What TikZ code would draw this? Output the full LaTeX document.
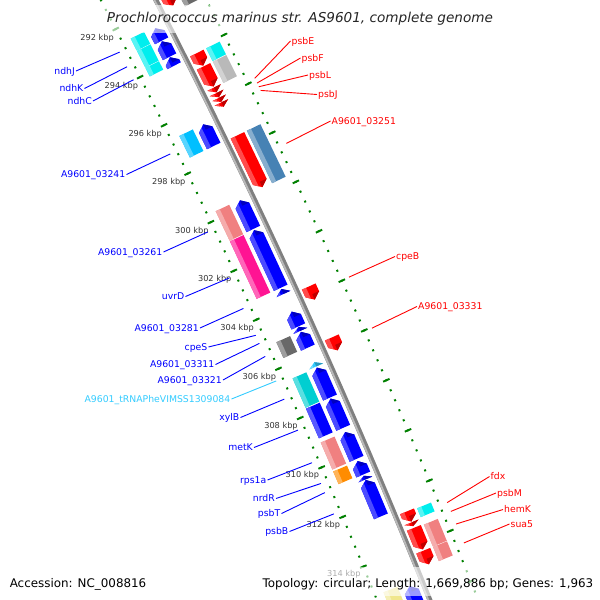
\documentclass[tikz,border=0pt]{standalone}
\usepackage{fontspec}
\setmainfont{DejaVu Sans}
\usetikzlibrary{calc}

\definecolor{cdsblue}{RGB}{0,0,255}
\definecolor{cdsred}{RGB}{255,0,0}
\definecolor{trnablue}{RGB}{51,204,255}
\definecolor{tickgreen}{RGB}{0,128,0}
\definecolor{cogcyan}{RGB}{0,238,238}
\definecolor{cogsky}{RGB}{0,191,255}
\definecolor{cogsalmon}{RGB}{240,128,128}
\definecolor{cogpink}{RGB}{255,20,147}
\definecolor{coggray}{RGB}{105,105,105}
\definecolor{cogturq}{RGB}{0,206,209}
\definecolor{cogorange}{RGB}{255,140,0}
\definecolor{cogkhaki}{RGB}{240,230,140}
\definecolor{cogsilver}{RGB}{185,185,185}
\definecolor{cogsteel}{RGB}{70,130,180}
\definecolor{axisgray}{RGB}{128,128,128}
\definecolor{axislight}{RGB}{185,185,185}
\definecolor{textgray}{RGB}{51,51,51}

\tikzset{
  gmap/.cd, p/.store in=\mapp, r/.store in=\mapr, p=300, r=7200,
}
% position (kbp) and radius on the big circle, centre far to the lower left
\tikzdeclarecoordinatesystem{gmap}{%
  \tikzset{gmap/.cd,#1}%
  \edef\mapx{\fpeval{round(-6250+(\mapr)*cosd(-26.7+0.2156*((\mapp)-293.87)),3)}}%
  \edef\mapy{\fpeval{round(3287+(\mapr)*sind(-26.7+0.2156*((\mapp)-293.87)),3)}}%
  \pgfpointxy{\mapx}{\mapy}}

% COG box: start, end, inner radius, colour
\newcommand{\cogbox}[4]{%
  \edef\cbout{\fpeval{#3+15}}\edef\cbmid{\fpeval{#3+4.5}}%
  \fill[#4] (gmap cs:p=#1,r=#3) -- (gmap cs:p=#1,r=\cbout) -- (gmap cs:p=#2,r=\cbout) -- (gmap cs:p=#2,r=#3) -- cycle;
  \fill[#4!65!white] (gmap cs:p=#1,r=#3) -- (gmap cs:p=#1,r=\cbmid) -- (gmap cs:p=#2,r=\cbmid) -- (gmap cs:p=#2,r=#3) -- cycle;
}
% CDS arrow on the left strand, tip at the start
\newcommand{\cdsleft}[3]{%
  \edef\tipa{\fpeval{#1+min(0.22,#2-#1)}}\edef\tipb{\fpeval{#1+0.4*min(0.22,#2-#1)}}%
  \fill[#3] (gmap cs:p=#1,r=7186.5) -- (gmap cs:p=\tipa,r=7194) -- (gmap cs:p=#2,r=7194) -- (gmap cs:p=#2,r=7179) -- (gmap cs:p=\tipa,r=7179) -- cycle;
  \fill[#3!70!white] (gmap cs:p=\tipa,r=7179) -- (gmap cs:p=\tipb,r=7183.5) -- (gmap cs:p=#2,r=7183.5) -- (gmap cs:p=#2,r=7179) -- cycle;
  \fill[#3!75!black] (gmap cs:p=#1,r=7186.5) -- (gmap cs:p=\tipa,r=7194) -- (gmap cs:p=\tipa,r=7186.5) -- cycle;
}
% CDS arrow on the right strand, tip at the end
\newcommand{\cdsright}[3]{%
  \edef\tipa{\fpeval{#2-min(0.22,#2-#1)}}\edef\tipb{\fpeval{#2-0.4*min(0.22,#2-#1)}}%
  \fill[#3] (gmap cs:p=#1,r=7205) -- (gmap cs:p=#1,r=7220) -- (gmap cs:p=\tipa,r=7220) -- (gmap cs:p=#2,r=7212.5) -- (gmap cs:p=\tipa,r=7205) -- cycle;
  \fill[#3!70!white] (gmap cs:p=#1,r=7205) -- (gmap cs:p=#1,r=7209.5) -- (gmap cs:p=\tipb,r=7209.5) -- (gmap cs:p=\tipa,r=7205) -- cycle;
  \fill[#3!75!black] (gmap cs:p=#2,r=7212.5) -- (gmap cs:p=\tipa,r=7220) -- (gmap cs:p=\tipa,r=7212.5) -- cycle;
}

\begin{document}
\begin{tikzpicture}[x=1pt, y=-1pt,
    lab/.style={font=\fontsize{9.3}{11}\selectfont, inner sep=1pt, text height=6.8pt, text depth=0pt},
    lablft/.style={lab, anchor=east, text=cdsblue},
    labrgt/.style={lab, anchor=west, text=cdsred},
    leadlft/.style={cdsblue, line width=0.9pt},
    leadrgt/.style={cdsred, line width=0.9pt},
    kbplab/.style={font=\fontsize{8.2}{10}\selectfont, text=textgray, inner sep=0pt},
    tickdot/.style={tickgreen, line width=2pt},
    tickmark/.style={tickgreen, line width=1.9pt},
    fadeband/.style={white, opacity=0.6},
  ]
\useasboundingbox (0,0) rectangle (600,600);
\fill[white] (0,0) rectangle (600,600);
\clip (0,0) rectangle (600,600);

% backbone
\draw[axisgray, line width=5pt] (gmap cs:p=289,r=7200) \foreach \k in {290,...,318} { -- (gmap cs:p=\k,r=7200) };
\draw[axislight, line width=1.8pt] (gmap cs:p=289,r=7198.6) \foreach \k in {290,...,318} { -- (gmap cs:p=\k,r=7198.6) };

% ticks
\foreach \k in {0,...,75} {
  \edef\kp{\fpeval{288+0.4*\k}}
  \draw[tickdot] (gmap cs:p=\kp,r=7150) -- (gmap cs:p=\kp,r=7152);
  \draw[tickdot] (gmap cs:p=\kp,r=7244) -- (gmap cs:p=\kp,r=7246);
}
\foreach \kp in {288,290,...,318} {
  \draw[tickmark] (gmap cs:p=\kp,r=7147.5) -- (gmap cs:p=\kp,r=7154.5);
  \draw[tickmark] (gmap cs:p=\kp,r=7241.5) -- (gmap cs:p=\kp,r=7248.5);
}
\foreach \kp in {292,294,...,314}
  \node[kbplab] (kbp\kp) at (gmap cs:p=\kp,r=7130) {\kp\ kbp};

% genes
\foreach \gbeg/\gend/\gcol in {292.57/293.07/cogcyan, 293.09/293.77/cogcyan, 293.79/294.14/cogcyan,
    296.61/297.50/cogsky, 299.71/300.92/cogsalmon, 300.95/303.30/cogpink, 305.07/305.71/coggray,
    306.54/307.73/cogturq, 307.77/308.97/cdsblue, 309.14/310.23/cogsalmon, 310.31/310.82/cogorange,
    315.17/318.00/cogkhaki}
  {\cogbox{\gbeg}{\gend}{7160}{\gcol}}
\foreach \gbeg/\gend/\gcol in {289.00/292.42/coggray, 294.15/294.67/cogcyan, 294.70/295.57/cogsilver,
    297.53/299.67/cogsteel, 312.77/313.12/cogcyan, 313.42/314.29/cogsalmon, 314.31/314.87/cogsalmon}
  {\cogbox{\gbeg}{\gend}{7223}{\gcol}}
\foreach \gbeg/\gend/\gcol in {292.64/293.16/cdsblue, 293.18/293.82/cdsblue, 293.84/294.19/cdsblue,
    296.61/297.50/cdsblue, 299.73/300.90/cdsblue, 300.95/303.30/cdsblue, 303.35/303.55/cdsblue,
    304.27/304.87/cdsblue, 304.89/305.05/cdsblue, 305.09/305.73/cdsblue, 306.32/306.49/trnablue,
    306.54/307.75/cdsblue, 307.79/308.97/cdsblue, 309.14/310.22/cdsblue, 310.31/310.85/cdsblue,
    310.90/311.05/cdsblue, 311.07/312.53/cdsblue, 315.32/318.00/cdsblue}
  {\cdsleft{\gbeg}{\gend}{\gcol}}
\foreach \gbeg/\gend/\gcol in {289.00/292.20/cdsred, 294.15/294.67/cdsred, 294.70/295.53/cdsred,
    295.57/295.77/cdsred, 295.79/295.97/cdsred, 295.99/296.16/cdsred, 296.18/296.36/cdsred,
    297.53/299.65/cdsred, 303.69/304.22/cdsred, 305.75/306.27/cdsred, 312.73/313.14/cdsred,
    313.17/313.32/cdsred, 313.39/314.25/cdsred, 314.30/314.84/cdsred}
  {\cdsright{\gbeg}{\gend}{\gcol}}

% labels, left strand
\foreach \nm/\txt/\lx/\ly/\kp in {ndhJ/ndhJ/76/71/292.83, ndhK/ndhK/84.5/88.5/293.44,
    ndhC/ndhC/93/101/293.98, a03241/A9601\_03241/126.5/174.5/297.06,
    a03261/A9601\_03261/163.5/252/300.28, uvrD/uvrD/185.5/296.5/302.17,
    a03281/A9601\_03281/200/328/303.42, cpeS/cpeS/208.5/347/304.52,
    a03311/A9601\_03311/215.5/364.5/304.85, a03321/A9601\_03321/223/380/305.38,
    xylB/xylB/240.5/417.5/307.12, metK/metK/254/447.5/308.38, rps1a/rps1a/267.5/480/309.70,
    nrdR/nrdR/276/498.5/310.54, psbT/psbT/281.5/513.5/310.91, psbB/psbB/289.5/531.5/311.77} {
  \node[lablft] (\nm) at (\lx,\ly) {\txt};
  \coordinate (\nm-e) at (gmap cs:p=\kp,r=7144);
  \draw[leadlft] (\nm.east) -- (\nm-e);
}
\node[lablft, text=trnablue] (trna) at (231.5,399) {A9601\_tRNAPheVIMSS1309084};
\coordinate (trna-e) at (gmap cs:p=306.38,r=7144);
\draw[leadlft, trnablue] (trna.east) -- (trna-e);

% labels, right strand
\foreach \nm/\txt/\lx/\ly/\kp in {psbE/psbE/290.5/41/295.93, psbF/psbF/300.5/58/296.12,
    psbL/psbL/308/75/296.27, psbJ/psbJ/317/94.5/296.42, a03251/A9601\_03251/330.5/121/298.58,
    cpeB/cpeB/395/256.5/303.99, a03331/A9601\_03331/417/306.5/306.04,
    fdx/fdx/489.5/476.5/313.00, psbM/psbM/496/493/313.35, hemK/hemK/503/509.5/313.85,
    sua5/sua5/509.5/524/314.60} {
  \node[labrgt] (\nm) at (\lx,\ly) {\txt};
  \coordinate (\nm-e) at (gmap cs:p=\kp,r=7253);
  \draw[leadrgt] (\nm.west) -- (\nm-e);
}

% title and footer
\fill[fadeband] (0,5) rectangle (600,33);
\fill[fadeband] (0,567) rectangle (600,596);
\node[font=\fontsize{13.6}{16}\selectfont\itshape, text=black!85, anchor=base, inner sep=0pt] (title) at (300,22.8) {Prochlorococcus marinus str. AS9601, complete genome};
\node[font=\fontsize{11.9}{14}\selectfont, anchor=base west, inner sep=0pt] (accession) at (9.6,587) {Accession: NC\_008816};
\node[font=\fontsize{11.9}{14}\selectfont, anchor=base east, inner sep=0pt] (topology) at (593.5,587) {Topology: circular; Length: 1,669,886 bp; Genes: 1,963};
\end{tikzpicture}
\end{document}
